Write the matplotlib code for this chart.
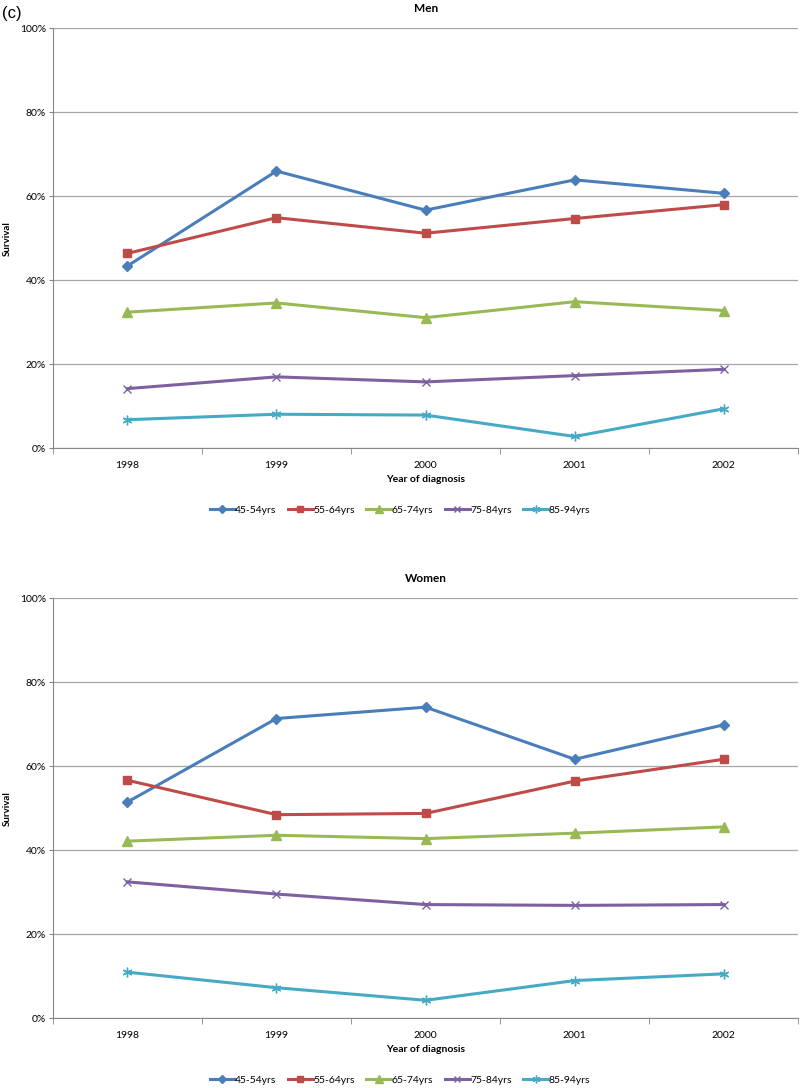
import matplotlib
matplotlib.use("Agg")
import matplotlib.pyplot as plt
from matplotlib.ticker import FuncFormatter

plt.rcParams['font.family'] = ['Lato', 'DejaVu Sans']

years = ["1998", "1999", "2000", "2001", "2002"]
groups = ["45-54yrs", "55-64yrs", "65-74yrs", "75-84yrs", "85-94yrs"]

men_45 = [43.4, 66.0, 56.7, 63.9, 60.7]
men_55 = [46.4, 54.9, 51.2, 54.7, 58.0]
men_65 = [32.4, 34.6, 31.1, 34.9, 32.8]
men_75 = [14.2, 17.0, 15.8, 17.3, 18.8]
men_85 = [6.8, 8.1, 7.9, 2.8, 9.4]

women_45 = [51.5, 71.4, 74.1, 61.7, 69.9]
women_55 = [56.7, 48.5, 48.8, 56.5, 61.7]
women_65 = [42.2, 43.6, 42.8, 44.1, 45.6]
women_75 = [32.5, 29.6, 27.1, 26.9, 27.1]
women_85 = [11.0, 7.3, 4.3, 9.0, 10.6]

colors = ["#4A7EBB", "#BE4B48", "#98B954", "#7D60A0", "#46AAC5"]
markers = ["D", "s", "^", "x", (6, 2, 0)]
msizes = [5, 6, 7, 6, 7]


def draw(ax, series, title):
    x = list(range(len(years)))
    handles = []
    for vals, lab, c, m, ms in zip(series, groups, colors, markers, msizes):
        h, = ax.plot(x, vals, color=c, lw=2.2, marker=m, markersize=ms,
                     markeredgecolor=c, markerfacecolor=c, mew=1.0, label=lab)
        handles.append(h)
    ax.set_xlim(-0.5, 4.5)
    ax.set_ylim(0, 100)
    ax.set_yticks(range(0, 101, 20))
    ax.yaxis.set_major_formatter(FuncFormatter(lambda v, p: "%d%%" % v))
    ax.set_xticks(x)
    ax.set_xticklabels(years)
    ax.set_xticks([i - 0.5 for i in range(6)], minor=True)
    ax.tick_params(axis="x", which="major", length=0, labelsize=7.5, pad=9)
    ax.tick_params(axis="x", which="minor", length=4, color="#868686")
    ax.tick_params(axis="y", length=3, color="#868686", labelsize=7.5, pad=2)
    ax.grid(axis="y", color="#A6A6A6", lw=0.9)
    ax.set_axisbelow(True)
    for s in ["top", "right"]:
        ax.spines[s].set_visible(False)
    for s in ["left", "bottom"]:
        ax.spines[s].set_color("#868686")
    ax.set_title(title, fontsize=8.5, fontweight="bold", pad=12)
    ax.set_ylabel("Survival", fontsize=7, fontweight="bold", labelpad=14)
    ax.set_xlabel("Year of diagnosis", fontsize=7.5, fontweight="bold",
                  labelpad=4)
    return handles


fig = plt.figure(figsize=(8, 10.88), dpi=100)
ax1 = fig.add_axes([0.066, 0.588, 0.932, 0.386])
ax2 = fig.add_axes([0.066, 0.064, 0.932, 0.386])

h1 = draw(ax1, [men_45, men_55, men_65, men_75, men_85], "Men")
h2 = draw(ax2, [women_45, women_55, women_65, women_75, women_85], "Women")

ax1.yaxis.set_label_coords(-0.055, 0.5)
ax2.yaxis.set_label_coords(-0.055, 0.5)

for h, yy in [(h1, 0.531), (h2, 0.007)]:
    fig.legend(handles=h, loc="center", bbox_to_anchor=(0.5, yy), ncol=5,
               frameon=False, fontsize=7.5, handlelength=2.4,
               columnspacing=1.1, handletextpad=0.05, markerscale=0.8)

fig.text(0.003, 0.988, "(c)", fontsize=12, va="center", ha="left",
         family="Liberation Sans")

fig.savefig("out.png", dpi=100)
